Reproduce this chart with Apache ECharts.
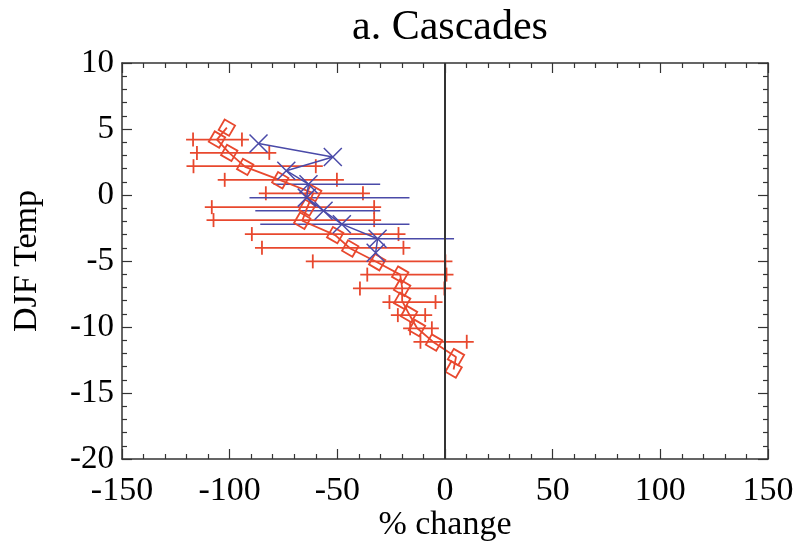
<!DOCTYPE html>
<html>
<head>
<meta charset="utf-8">
<script src="https://cdn.jsdelivr.net/npm/echarts@6/dist/echarts.min.js"></script>
<style>
  html, body { margin: 0; padding: 0; background: #fff; }
  #chart { width: 800px; height: 542px; }
</style>
</head>
<body>
<div id="chart"></div>
<script>
// red series: diamonds joined by a line
const redX = [-101.3, -105.9, -100.2, -92.8, -76.5, -61.2, -64.0, -66.3, -51.0, -44.0, -31.5, -20.8, -19.9, -19.9, -16.7, -13.0, -5.1, 5.1, 4.0];
const redY = [5.1, 4.2, 3.19, 2.13, 1.12, 0.14, -0.96, -1.95, -3.04, -4.05, -5.09, -6.03, -7.03, -8.02, -9.02, -10.08, -11.18, -12.28, -13.22];

// red horizontal ranges (ends drawn with '+')
const redBarY = [4.2, 3.19, 2.18, 1.15, 0.13, -0.92, -1.9, -2.96, -4.0, -5.03, -6.03, -7.08, -8.11, -9.1, -10.1, -11.12];
const redBarLow = [-117.0, -115.2, -116.8, -102.3, -83.2, -108.3, -107.5, -89.7, -85.0, -61.4, -36.1, -39.5, -25.8, -21.9, -16.2, -11.4];
const redBarHigh = [-94.3, -81.6, -60.0, -50.2, -38.1, -32.9, -32.9, -21.6, -19.3, 0.2, 0.7, -0.3, -4.4, -9.2, -6.1, 10.1];

// blue series: crosses joined by a line
const blueX = [-86.6, -52.1, -73.7, -63.4, -64.2, -56.4, -47.9, -31.3, -32.2];
const blueY = [3.9, 2.88, 1.84, 0.82, -0.2, -1.2, -2.21, -3.31, -4.37];

// blue horizontal ranges
const blueBarY = [0.82, -0.2, -1.2, -2.21, -3.31];
const blueBarLow = [-79.6, -90.8, -88.1, -85.8, -44.8];
const blueBarHigh = [-30.1, -16.5, -30.1, -16.5, 4.2];

const xTicks = [-150, -100, -50, 0, 50, 100, 150];
const yTicks = [-20, -15, -10, -5, 0, 5, 10];

const RED = '#e8482e';
const BLUE = '#4a4aa8';
const FONT = 'Liberation Serif';

const chart = echarts.init(document.getElementById('chart'));

const rangeSeries = (low, high, ys, color, caps) => ({
  type: 'custom',
  xAxisIndex: 0,
  yAxisIndex: 0,
  silent: true,
  data: ys.map((y, i) => [low[i], high[i], y]),
  encode: { x: [0, 1], y: 2 },
  renderItem: (params, api) => {
    const l = api.coord([api.value(0), api.value(2)]);
    const r = api.coord([api.value(1), api.value(2)]);
    const arm = caps ? 7 : 0;
    const style = { stroke: color, lineWidth: caps ? 1.8 : 1.5 };
    const children = [
      { type: 'line', shape: { x1: l[0] - arm, y1: l[1], x2: r[0] + arm, y2: r[1] }, style }
    ];
    if (caps) {
      children.push({ type: 'line', shape: { x1: l[0], y1: l[1] - arm, x2: l[0], y2: l[1] + arm }, style });
      children.push({ type: 'line', shape: { x1: r[0], y1: r[1] - arm, x2: r[0], y2: r[1] + arm }, style });
    }
    return { type: 'group', children };
  },
  z: 2
});

const axisCommon = {
  type: 'value',
  axisLine: { show: true, onZero: false, lineStyle: { color: '#333', width: 1.5 } },
  axisTick: { show: true, inside: true, length: 10, lineStyle: { color: '#333', width: 1.2 } },
  minorTick: { show: true, splitNumber: 5, length: 5, lineStyle: { color: '#333', width: 1.2 } },
  splitLine: { show: false },
  minorSplitLine: { show: false }
};

const option = {
  backgroundColor: '#fff',
  animation: false,
  title: {
    text: 'a. Cascades',
    left: 445,
    top: 2,
    textAlign: 'center',
    textStyle: { fontFamily: FONT, fontSize: 42, fontWeight: 'normal', color: '#000' }
  },
  grid: { left: 122, right: 32, top: 63, bottom: 83, containLabel: false, outerBoundsMode: 'none' },
  xAxis: [
    {
      ...axisCommon,
      position: 'bottom',
      min: -150, max: 150, interval: 50,
      name: '% change',
      nameLocation: 'middle',
      nameGap: 49,
      nameMoveOverlap: false,
      nameTextStyle: { fontFamily: FONT, fontSize: 34, color: '#000' },
      axisLabel: {
        margin: 15,
        fontFamily: FONT, fontSize: 34, color: '#000',
        formatter: v => (xTicks.includes(v) ? String(v) : '')
      }
    },
    {
      ...axisCommon,
      position: 'top',
      min: -150, max: 150, interval: 50,
      axisLabel: { show: false }
    }
  ],
  yAxis: [
    {
      ...axisCommon,
      position: 'left',
      min: -20, max: 10, interval: 5,
      name: 'DJF Temp',
      nameLocation: 'middle',
      nameGap: 78,
      nameMoveOverlap: false,
      nameRotate: 90,
      nameTextStyle: { fontFamily: FONT, fontSize: 34, color: '#000' },
      axisLabel: {
        margin: 8,
        fontFamily: FONT, fontSize: 33, color: '#000',
        formatter: v => (yTicks.includes(v) ? String(v) : '')
      }
    },
    {
      ...axisCommon,
      position: 'right',
      min: -20, max: 10, interval: 5,
      axisLabel: { show: false }
    }
  ],
  series: [
    rangeSeries(redBarLow, redBarHigh, redBarY, RED, true),
    rangeSeries(blueBarLow, blueBarHigh, blueBarY, BLUE, false),
    {
      type: 'line',
      data: redX.map((x, i) => [x, redY[i]]),
      symbol: 'path://M0,-1L1,0L0,1L-1,0Z',
      symbolSize: 17,
      symbolRotate: 15,
      itemStyle: { color: 'rgba(0,0,0,0)', borderColor: RED, borderWidth: 1.8 },
      lineStyle: { color: RED, width: 1.8 },
      z: 3,
      markLine: {
        silent: true,
        symbol: 'none',
        label: { show: false },
        lineStyle: { color: '#333', width: 2, type: 'solid' },
        data: [{ xAxis: 0 }]
      }
    },
    {
      type: 'line',
      data: blueX.map((x, i) => [x, blueY[i]]),
      symbol: 'path://M-1,-1L1,1M1,-1L-1,1',
      symbolSize: 18,
      itemStyle: { color: 'rgba(0,0,0,0)', borderColor: BLUE, borderWidth: 1.5 },
      lineStyle: { color: BLUE, width: 1.5 },
      z: 4
    }
  ]
};

chart.setOption(option);
</script>
</body>
</html>
